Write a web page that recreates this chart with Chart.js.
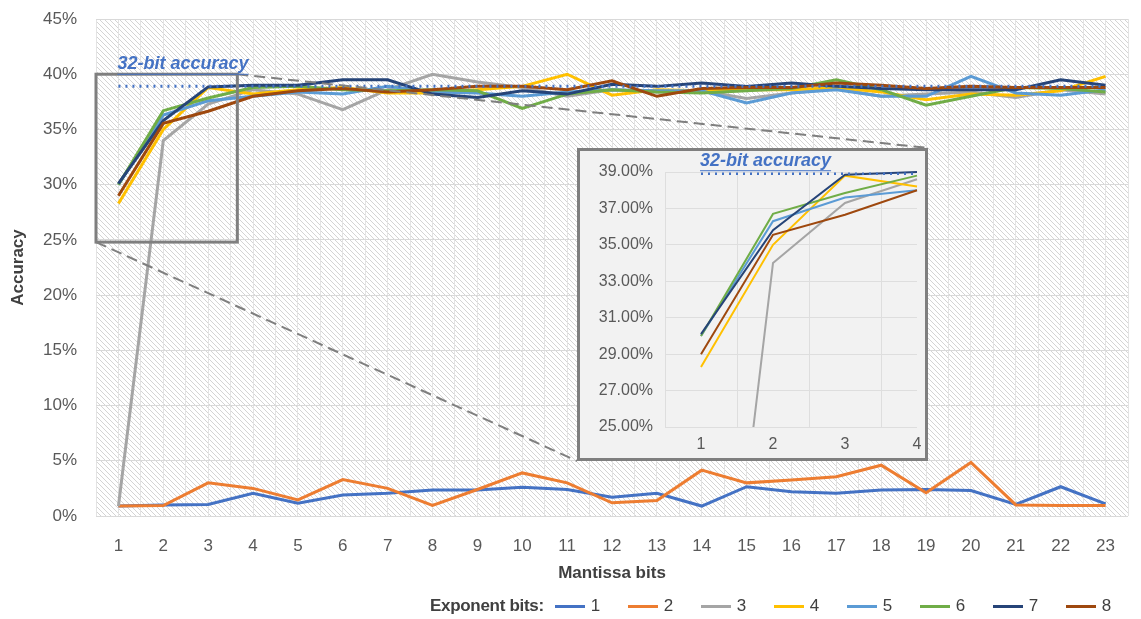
<!DOCTYPE html>
<html>
<head>
<meta charset="utf-8">
<script src="https://cdn.jsdelivr.net/npm/chart.js@4.4.0/dist/chart.umd.min.js"></script>
<style>
  html, body { margin: 0; padding: 0; background: #fff; }
  #wrap { position: relative; width: 1141px; height: 619px; overflow: hidden; }
  #main { position: absolute; left: 0; top: 0; }
  #insetBox { position: absolute; left: 577px; top: 148px; width: 345px; height: 307px;
              border: 3px solid #7f7f7f; background: #f2f2f2; }
  #inset { display: block; }
  #legend { position: absolute; left: 430px; top: 594px; height: 24px; display: flex; align-items: center;
            font: 17px "Liberation Sans", Arial, sans-serif; color: #404040; white-space: nowrap; }
  #legend .title { font-weight: bold; margin-right: 11px; letter-spacing: -0.3px; }
  #legend .item { display: flex; align-items: center; margin-right: 27.5px; }
  #legend .swatch { width: 30px; height: 3px; margin-right: 6px; }
</style>
</head>
<body>
<div id="wrap">
  <canvas id="main" width="1141" height="619"></canvas>
  <div id="insetBox"><canvas id="inset" width="345" height="307"></canvas></div>
  <div id="legend"><span class="title">Exponent bits:</span></div>
</div>
<script>
// x axis: mantissa bits, one series per exponent bit count
const mantissaBits = [1, 2, 3, 4, 5, 6, 7, 8, 9, 10, 11, 12, 13, 14, 15, 16, 17, 18, 19, 20, 21, 22, 23];
const exponentBits = ['1', '2', '3', '4', '5', '6', '7', '8'];
const seriesColors = ['#4472c4', '#ed7d31', '#a5a5a5', '#ffc000', '#5b9bd5', '#70ad47', '#264478', '#9e480e'];

// accuracy in %
const exp1 = [0.9, 1.0, 1.05, 2.05, 1.15, 1.9, 2.05, 2.35, 2.35, 2.6, 2.4, 1.7, 2.05, 0.9, 2.65, 2.2, 2.05, 2.35, 2.4, 2.3, 1.05, 2.65, 1.1];
const exp2 = [0.9, 0.95, 3.0, 2.5, 1.45, 3.3, 2.5, 0.95, 2.4, 3.9, 3.0, 1.2, 1.4, 4.15, 3.0, 3.25, 3.55, 4.6, 2.1, 4.85, 1.0, 0.95, 0.95];
const exp3 = [0.9, 34.0, 37.3, 38.6, 38.2, 36.8, 38.6, 40.0, 39.3, 38.8, 38.0, 38.6, 38.4, 38.5, 37.8, 38.3, 38.7, 38.0, 38.2, 38.4, 37.9, 38.6, 38.2];
const exp4 = [28.3, 35.0, 38.8, 38.2, 38.6, 38.8, 38.3, 38.3, 38.6, 38.9, 40.0, 38.1, 38.6, 38.5, 38.6, 38.6, 38.8, 38.4, 37.7, 38.2, 38.1, 38.5, 39.8];
const exp5 = [30.0, 36.3, 37.6, 38.0, 38.4, 38.2, 38.9, 38.4, 38.3, 38.0, 38.4, 38.6, 38.5, 38.5, 37.4, 38.3, 38.6, 38.0, 38.0, 39.8, 38.3, 38.1, 38.6];
const exp6 = [30.0, 36.7, 37.85, 38.8, 38.9, 38.6, 38.5, 38.6, 38.5, 36.9, 38.2, 38.6, 38.4, 38.3, 38.5, 38.7, 39.5, 38.6, 37.2, 38.0, 38.8, 38.7, 38.4];
const exp7 = [30.1, 35.8, 38.85, 39.0, 39.0, 39.5, 39.5, 38.2, 37.9, 38.5, 38.2, 39.1, 38.9, 39.2, 38.9, 39.2, 38.9, 38.7, 38.6, 38.6, 38.6, 39.5, 39.0];
const exp8 = [29.0, 35.55, 36.65, 38.0, 38.5, 38.7, 38.4, 38.6, 38.9, 38.9, 38.6, 39.4, 38.0, 38.7, 38.8, 38.8, 39.2, 39.0, 38.7, 38.9, 38.8, 38.8, 38.8];
const accuracy = [exp1, exp2, exp3, exp4, exp5, exp6, exp7, exp8];

const fp32Accuracy = 38.9;
const fp32Label = '32-bit accuracy';

// zoomed part shown in the inset
const insetBits = [1, 2, 3, 4];

const FONT = '"Liberation Sans", Arial, sans-serif';

function points(values, bits) {
    return bits.map((m, i) => ({ x: m, y: values[i] }));
}

function halfStepTicks(bits, withEnd) {
    const ticks = [];
    bits.forEach(m => { ticks.push({ value: m - 0.5 }); ticks.push({ value: m }); });
    if (withEnd) ticks.push({ value: bits[bits.length - 1] + 0.5 });
    return ticks;
}

function makeHatch(ctx) {
    const c = document.createElement('canvas');
    c.width = 5; c.height = 5;
    const g = c.getContext('2d');
    g.fillStyle = '#ffffff';
    g.fillRect(0, 0, 5, 5);
    g.strokeStyle = '#d4d4d4';
    g.lineWidth = 1;
    g.beginPath();
    g.moveTo(-5, -5); g.lineTo(10, 10);
    g.moveTo(-5, 0); g.lineTo(5, 10);
    g.moveTo(0, -5); g.lineTo(10, 5);
    g.stroke();
    return ctx.createPattern(c, 'repeat');
}

function lineDatasets(bits, width) {
    const sets = accuracy.map((vals, i) => ({
        label: exponentBits[i],
        data: points(vals, bits),
        borderColor: seriesColors[i],
        backgroundColor: seriesColors[i],
        borderWidth: width,
        pointRadius: 0,
        tension: 0,
        order: exponentBits.length - i
    }));
    sets.push({
        label: fp32Label,
        data: bits.map(m => ({ x: m, y: fp32Accuracy })),
        borderColor: '#4472c4',
        borderWidth: 3,
        borderDash: [2, 5],
        pointRadius: 0,
        order: 0
    });
    return sets;
}

function drawFp32Label(chart, dy, size) {
    const { ctx, scales } = chart;
    const x = scales.x.getPixelForValue(1) - 1;
    const y = scales.y.getPixelForValue(fp32Accuracy) - dy;
    ctx.save();
    ctx.font = 'italic bold ' + size + 'px ' + FONT;
    ctx.fillStyle = '#4472c4';
    ctx.textBaseline = 'middle';
    ctx.fillText(fp32Label, x, y);
    const w = ctx.measureText(fp32Label).width;
    ctx.strokeStyle = '#4472c4';
    ctx.lineWidth = 1;
    ctx.beginPath();
    ctx.moveTo(x, y + size * 0.55);
    ctx.lineTo(x + w, y + size * 0.55);
    ctx.stroke();
    ctx.restore();
}

const hatchBackground = {
    id: 'hatchBackground',
    beforeDraw(chart) {
        const { ctx, chartArea } = chart;
        ctx.save();
        ctx.fillStyle = makeHatch(ctx);
        ctx.fillRect(chartArea.left, chartArea.top, chartArea.right - chartArea.left, chartArea.bottom - chartArea.top);
        ctx.restore();
    }
};

const zoomMarks = {
    id: 'zoomMarks',
    afterDatasetsDraw(chart) {
        const { ctx, scales } = chart;
        const box = document.getElementById('insetBox');
        const left = scales.x.getPixelForValue(0.5);
        const right = scales.x.getPixelForValue(3.65);
        const top = scales.y.getPixelForValue(40);
        const bottom = scales.y.getPixelForValue(24.8);
        const bx = box.offsetLeft, by = box.offsetTop;
        const bw = box.offsetWidth, bh = box.offsetHeight;

        ctx.save();
        ctx.strokeStyle = '#7f7f7f';
        ctx.lineWidth = 2;
        ctx.setLineDash([11, 6]);
        ctx.beginPath();
        ctx.moveTo(right, top); ctx.lineTo(bx + bw, by);
        ctx.moveTo(left, bottom); ctx.lineTo(bx, by + bh);
        ctx.stroke();
        ctx.setLineDash([]);
        ctx.lineWidth = 3;
        ctx.strokeRect(left, top, right - left, bottom - top);
        ctx.restore();

        drawFp32Label(chart, 22, 18);
    }
};

// tick padding would otherwise widen the chart area margins
function fixX(height) {
    return axis => { axis.height = height; axis.paddingLeft = 0; axis.paddingRight = 0; };
}
function fixY(width) {
    return axis => { axis.width = width; axis.paddingTop = 0; axis.paddingBottom = 0; };
}

const mainChart = new Chart(document.getElementById('main'), {
    type: 'line',
    data: { datasets: lineDatasets(mantissaBits, 3) },
    options: {
        responsive: false,
        animation: false,
        devicePixelRatio: 1,
        layout: { padding: { left: 8, right: 13, top: 19, bottom: 31 } },
        plugins: { legend: { display: false }, tooltip: { enabled: false } },
        scales: {
            x: {
                type: 'linear',
                min: 0.5,
                max: 23.5,
                afterBuildTicks: axis => { axis.ticks = halfStepTicks(mantissaBits, true); },
                afterFit: fixX(72),
                grid: { color: '#e3e3e3', drawTicks: false },
                border: { display: false },
                ticks: {
                    autoSkip: false,
                    maxRotation: 0,
                    padding: 20,
                    color: '#595959',
                    font: { family: FONT, size: 17 },
                    callback: v => Number.isInteger(v) ? String(v) : ''
                },
                title: {
                    display: true,
                    text: 'Mantissa bits',
                    color: '#404040',
                    font: { family: FONT, size: 17, weight: 'bold' },
                    padding: { top: 0, bottom: 4 }
                }
            },
            y: {
                min: 0,
                max: 45,
                afterFit: fixY(88),
                grid: { color: '#d9d9d9', drawTicks: false },
                border: { display: false },
                ticks: {
                    stepSize: 5,
                    padding: 19,
                    color: '#595959',
                    font: { family: FONT, size: 17 },
                    callback: v => v + '%'
                },
                title: {
                    display: true,
                    text: 'Accuracy',
                    color: '#404040',
                    font: { family: FONT, size: 17, weight: 'bold' },
                    padding: { top: 0, bottom: 0 }
                }
            }
        }
    },
    plugins: [hatchBackground, zoomMarks]
});

const insetLabel = {
    id: 'insetLabel',
    afterDatasetsDraw(chart) { drawFp32Label(chart, 13, 18); }
};

const insetChart = new Chart(document.getElementById('inset'), {
    type: 'line',
    data: {
        datasets: lineDatasets(insetBits, 2).map(ds => {
            ds.clip = { left: 5, top: 5, right: 5, bottom: 0 };
            if (ds.borderDash) ds.borderWidth = 2.5;
            return ds;
        })
    },
    options: {
        responsive: false,
        animation: false,
        devicePixelRatio: 1,
        layout: { padding: { left: 0, right: 8, top: 21, bottom: 0 } },
        plugins: { legend: { display: false }, tooltip: { enabled: false } },
        scales: {
            x: {
                type: 'linear',
                min: 0.5,
                max: 4,
                afterBuildTicks: axis => { axis.ticks = halfStepTicks(insetBits, false); },
                afterFit: fixX(31),
                grid: {
                    drawTicks: false,
                    color: c => (c.tick && !Number.isInteger(c.tick.value)) ? '#dedede' : 'rgba(0,0,0,0)'
                },
                border: { display: false },
                ticks: {
                    autoSkip: false,
                    maxRotation: 0,
                    padding: 8,
                    color: '#595959',
                    font: { family: FONT, size: 16 },
                    callback: v => Number.isInteger(v) ? String(v) : ''
                }
            },
            y: {
                min: 25,
                max: 39,
                afterFit: fixY(85),
                grid: { color: '#dedede', drawTicks: false },
                border: { display: false },
                ticks: {
                    stepSize: 2,
                    padding: 12,
                    color: '#595959',
                    font: { family: FONT, size: 16 },
                    callback: v => v.toFixed(2) + '%'
                }
            }
        }
    },
    plugins: [insetLabel]
});

// legend row
const legend = document.getElementById('legend');
exponentBits.forEach((label, i) => {
    const item = document.createElement('span');
    item.className = 'item';
    const swatch = document.createElement('span');
    swatch.className = 'swatch';
    swatch.style.background = seriesColors[i];
    const text = document.createElement('span');
    text.textContent = label;
    item.appendChild(swatch);
    item.appendChild(text);
    legend.appendChild(item);
});
</script>
</body>
</html>
